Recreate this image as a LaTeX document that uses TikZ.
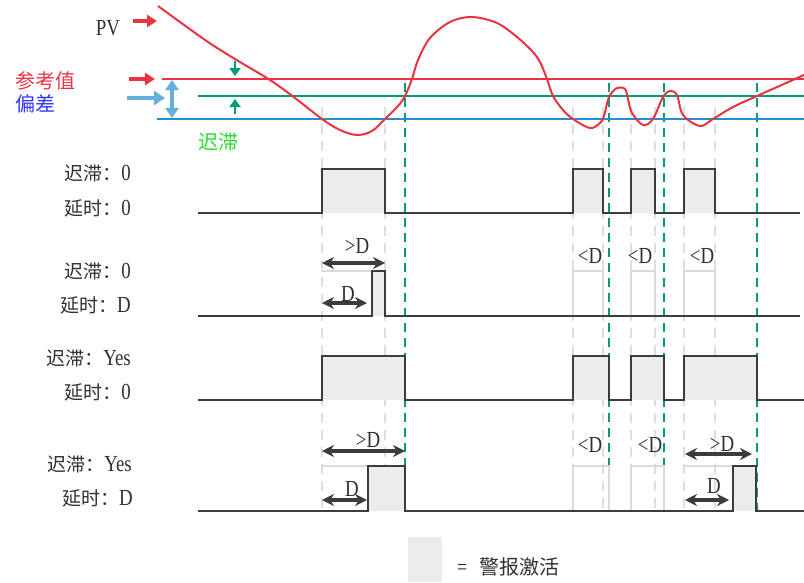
\documentclass[tikz,border=0pt]{standalone}
\usepackage{fontspec}
\setmainfont{Liberation Serif}[FakeStretch=0.82]
\newfontfamily\cjk{Noto Sans CJK SC}
\usetikzlibrary{arrows.meta}
\definecolor{pvred}{RGB}{232,52,64}
\definecolor{teal}{RGB}{0,155,120}
\definecolor{lineblue}{RGB}{40,140,205}
\definecolor{lightblue}{RGB}{100,175,220}
\definecolor{txtgreen}{RGB}{40,220,40}
\definecolor{txtblue}{RGB}{50,50,255}
\definecolor{sigdark}{RGB}{60,60,60}
\definecolor{pulsefill}{RGB}{236,236,236}
\definecolor{ghost}{RGB}{218,218,218}
\definecolor{dashgray}{RGB}{222,222,222}
\newcommand\lbl[2]{{\cjk\fontsize{19}{19}\selectfont #1}{\fontsize{23}{23}\selectfont #2}}
\tikzset{
  sig/.style={draw=sigdark, line width=1.8pt, line join=miter},
  pfill/.style={fill=pulsefill},
  ghostl/.style={draw=ghost, line width=1.5pt},
  gdash/.style={draw=dashgray, line width=2pt, dash pattern=on 10pt off 7pt},
  tdash/.style={draw=teal, line width=2pt, dash pattern=on 9pt off 6pt},
  dimarr/.style={draw=sigdark, line width=3.4pt, {Stealth[length=12pt,width=12pt]}-{Stealth[length=12pt,width=12pt]}},
  rowlbl/.style={anchor=base east, inner sep=0pt, text=sigdark!80!black},
  dlbl/.style={anchor=base, inner sep=0pt, font=\fontsize{23}{23}\selectfont, text=sigdark!80!black},
}
\begin{document}
\begin{tikzpicture}[x=1pt,y=-1pt]
\useasboundingbox (0,0) rectangle (804,582);
% dashed guide lines
\foreach \gx in {322,385,573,603,631,655,684,715}
  \draw[gdash] (\gx,107) -- (\gx,511);
\foreach \tx in {405,609,664,757}
  \draw[tdash] (\tx,83) -- (\tx,511);
% level lines
\draw[pvred, line width=2.2pt] (162,79) -- (804,79);
\draw[teal, line width=2.2pt] (198,96) -- (804,96);
\draw[lineblue, line width=2.2pt] (157,119) -- (804,119);
% PV curve
\draw[pvred, line width=2pt, line join=round] plot[smooth, tension=0.55] coordinates {
 (158,6) (208,42) (240,62) (270,80) (295,98) (322,119) (340,130) (357,135) (372,131) (385,119)
 (398,106) (405,96) (412,79) (418,60) (430,38) (450,22) (472,17) (497,23) (517,37) (532,51) (540,62)
 (547,79) (553,96) (563,110) (573,119) (590,128) (600,123) (604,116) (609,97) (617,88) (625,89)
 (628,99) (632,113) (643,125) (653,119) (663,97) (670,91) (677,95) (683,115) (700,126) (713,119)
 (733,107) (757,96) (804,75)};
% legend-side arrows and labels
\node[inner sep=0pt, anchor=base, font=\fontsize{23}{23}\selectfont, text=sigdark!80!black] (pv) at (108,35) {PV};
\draw[pvred, line width=3.5pt, -{Triangle[length=10pt,width=12pt]}] (133,21) -- (157,21);
\node[inner sep=0pt, anchor=base west, font=\cjk\fontsize{20}{20}\selectfont, text=pvred] (ref) at (15,88) {参考值};
\draw[pvred, line width=3.5pt, -{Triangle[length=10pt,width=12pt]}] (129,79) -- (155,79);
\node[inner sep=0pt, anchor=base west, font=\cjk\fontsize{20}{20}\selectfont, text=txtblue] (dev) at (15,111) {偏差};
\draw[lightblue, line width=3.5pt, -{Triangle[length=11pt,width=14pt]}] (127,98) -- (165,98);
\draw[lightblue, line width=3.5pt, {Triangle[length=10pt,width=13pt]}-{Triangle[length=10pt,width=13pt]}] (172,80) -- (172,118);
\draw[teal, line width=2.8pt, -{Triangle[length=8pt,width=11pt]}] (235,61) -- (235,76);
\draw[teal, line width=2.8pt, -{Triangle[length=8pt,width=11pt]}] (235,114) -- (235,99);
\node[inner sep=0pt, anchor=base west, font=\cjk\fontsize{20}{20}\selectfont, text=txtgreen] (hys) at (198,149) {迟滞};
% ---------- row 1 ----------
\node[rowlbl] (r1a) at (131,180) {\lbl{迟滞：}{0}};
\node[rowlbl] (r1b) at (131,215) {\lbl{延时：}{0}};
\foreach \a/\b in {322/385,573/603,631/655,684/715}
  \fill[pfill] (\a,169) rectangle (\b,213);
\draw[sig] (198,213) -- (322,213) -- (322,169) -- (385,169) -- (385,213) -- (573,213) -- (573,169) -- (603,169) -- (603,213)
  -- (631,213) -- (631,169) -- (655,169) -- (655,213) -- (684,213) -- (684,169) -- (715,169) -- (715,213) -- (800,213);
% ---------- row 2 ----------
\node[rowlbl] (r2a) at (131,278) {\lbl{迟滞：}{0}};
\node[rowlbl] (r2b) at (131,312) {\lbl{延时：}{D}};
\draw[ghostl] (322,271) -- (372,271);
\foreach \a/\b in {573/603,631/655,684/715}
  \draw[ghostl] (\a,316) -- (\a,271) -- (\b,271) -- (\b,316);
\fill[pfill] (372,271) rectangle (385,316);
\draw[sig] (198,316) -- (372,316) -- (372,271) -- (385,271) -- (385,316) -- (800,316);
\draw[dimarr] (322,263) -- (385,263);
\node[dlbl] (r2gt) at (357,253) {>D};
\draw[dimarr] (322,303) -- (367,303);
\node[dlbl] (r2d) at (348,301) {D};
\node[dlbl] (r2l1) at (590,263) {<D};
\node[dlbl] (r2l2) at (640,263) {<D};
\node[dlbl] (r2l3) at (702,263) {<D};
% ---------- row 3 ----------
\node[rowlbl] (r3a) at (131,365) {\lbl{迟滞：}{Yes}};
\node[rowlbl] (r3b) at (131,399) {\lbl{延时：}{0}};
\foreach \a/\b in {322/405,573/609,631/664,684/757}
  \fill[pfill] (\a,356) rectangle (\b,400);
\draw[sig] (198,400) -- (322,400) -- (322,356) -- (405,356) -- (405,400) -- (573,400) -- (573,356) -- (609,356) -- (609,400)
  -- (631,400) -- (631,356) -- (664,356) -- (664,400) -- (684,400) -- (684,356) -- (757,356) -- (757,400) -- (804,400);
% ---------- row 4 ----------
\node[rowlbl] (r4a) at (132,471) {\lbl{迟滞：}{Yes}};
\node[rowlbl] (r4b) at (133,505) {\lbl{延时：}{D}};
\draw[ghostl] (322,466) -- (368,466);
\draw[ghostl] (684,466) -- (733,466);
\foreach \a/\b in {573/609,631/664}
  \draw[ghostl] (\a,511) -- (\a,466) -- (\b,466) -- (\b,511);
\fill[pfill] (368,466) rectangle (405,511);
\fill[pfill] (733,466) rectangle (756,511);
\draw[sig] (198,511) -- (368,511) -- (368,466) -- (405,466) -- (405,511) -- (733,511) -- (733,466) -- (756,466) -- (756,511) -- (804,511);
\draw[dimarr] (322,451) -- (405,451);
\node[dlbl] (r4gt) at (368,447) {>D};
\draw[dimarr] (322,500) -- (367,500);
\node[dlbl] (r4d) at (352,496) {D};
\node[dlbl] (r4l1) at (590,452) {<D};
\node[dlbl] (r4l2) at (650,452) {<D};
\draw[dimarr] (685,454) -- (752,454);
\node[dlbl] (r4gt2) at (722,451) {>D};
\draw[dimarr] (685,500) -- (729,500);
\node[dlbl] (r4d2) at (714,493) {D};
% legend
\fill[pfill] (408,537) rectangle (442,582) node[pos=0.5] (legbox) {};
\node[inner sep=0pt, anchor=base west, text=sigdark!80!black] (legtxt) at (457,574) {{\fontsize{22}{22}\selectfont =}\hspace{12pt}{\cjk\fontsize{20}{20}\selectfont 警报激活}};
\end{tikzpicture}
\end{document}
